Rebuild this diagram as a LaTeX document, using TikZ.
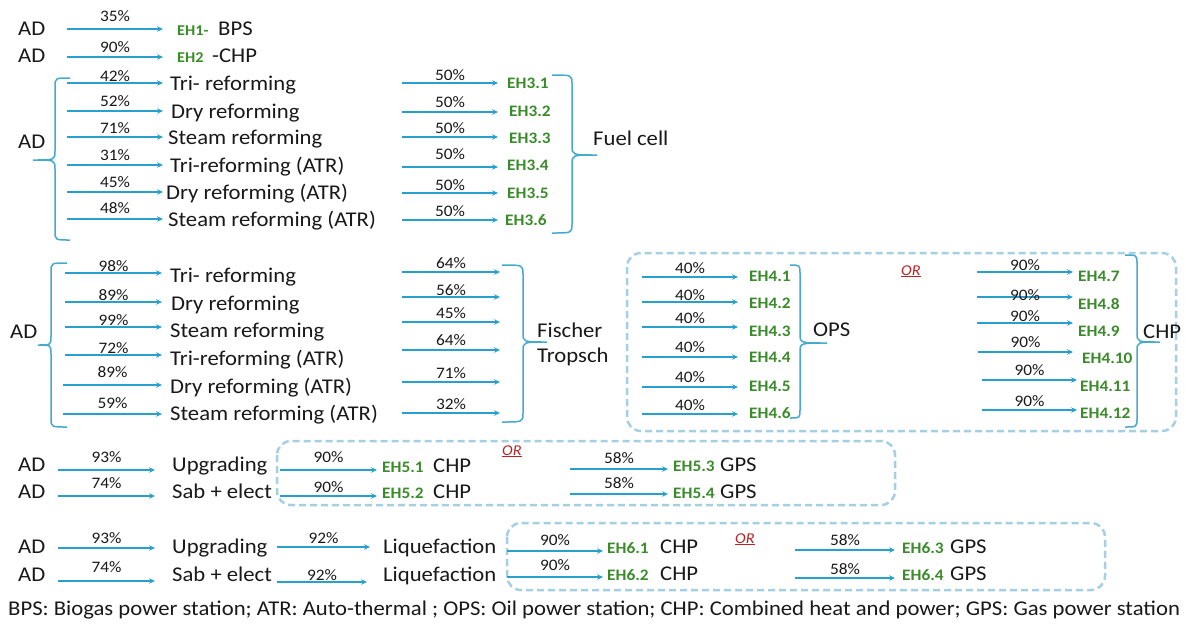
\documentclass[tikz,border=0pt]{standalone}
\usepackage{fontspec}
\setmainfont{Carlito}[FakeStretch=1.08]
\usetikzlibrary{arrows.meta}
\definecolor{arrc}{RGB}{40,160,205}
\definecolor{brcc}{RGB}{70,170,205}
\definecolor{boxc}{RGB}{165,208,228}
\definecolor{ehg}{RGB}{58,140,42}
\definecolor{orc}{RGB}{185,35,35}
\definecolor{txt}{RGB}{25,25,25}
\tikzset{
 flow/.style={draw=arrc, line width=1.3pt, -{Stealth[length=6pt,width=5.5pt]}},
 lbl/.style={font=\fontsize{21}{25}\selectfont, text=txt, inner sep=0pt, anchor=base west},
 pct/.style={font=\fontsize{16}{19}\selectfont, text=txt, inner sep=0pt, anchor=base},
 eh/.style={font=\fontsize{16}{19}\selectfont\bfseries, text=ehg, inner sep=0pt, anchor=base west},
 ehs/.style={eh, font=\fontsize{15}{18}\selectfont\bfseries},
 orl/.style={font=\fontsize{15}{18}\selectfont\itshape, text=orc, inner sep=0pt, anchor=base west},
 brc/.style={draw=brcc, line width=1.5pt},
 dbox/.style={draw=boxc, line width=2.5pt, dash pattern=on 7pt off 4pt, rounded corners=14pt},
 legend/.style={font=\fontsize{21}{25}\selectfont, text=txt, inner sep=0pt, anchor=base west},
}
% name, x start, x end, y, percent text, percent baseline
\newcommand\flowarrow[6]{%
 \coordinate (#1s) at (#2,#4);
 \coordinate (#1e) at (#3,#4);
 \draw[flow] (#1s) -- (#1e);
 \node[pct] (#1p) at ({(#2+#3)/2},#6) {#5};}
% name, x hook end, x vertical, x tip, y top, y tip, y bottom
\newcommand\bracepath[7]{%
 \draw[brc] (#2,#5) .. controls (#3,#5) .. (#3,#5+9) -- (#3,#6-9)
   .. controls (#3,#6) .. (#4,#6) coordinate (#1)
   .. controls (#3,#6) .. (#3,#6+9) -- (#3,#7-9)
   .. controls (#3,#7) .. (#2,#7);}
\begin{document}
\begin{tikzpicture}[x=1pt,y=-1pt]
\useasboundingbox[fill=white] (0,0) rectangle (1186,625);

% ---- row 1, 2
\node[lbl] (ad1) at (18,35) {AD};
\flowarrow{a1}{67}{163}{29}{35\%}{21}
\node[ehs] (eh1) at (177,35) {EH1-};
\node[lbl] (bps) at (218,35) {BPS};
\node[lbl] (ad2) at (18,62) {AD};
\flowarrow{a2}{67}{163}{57}{90\%}{52}
\node[ehs] (eh2) at (177,62) {EH2};
\node[lbl] (chp2) at (212,62) {-CHP};

% ---- group 3
\node[lbl] (ad3) at (18,148) {AD};
\bracepath{b3l}{70}{55}{33}{78}{160}{240}
\flowarrow{g3a}{67}{163}{83}{42\%}{81}
\flowarrow{g3b}{67}{163}{111}{52\%}{106}
\flowarrow{g3c}{67}{163}{137}{71\%}{133}
\flowarrow{g3d}{67}{163}{165}{31\%}{160}
\flowarrow{g3e}{67}{163}{192}{45\%}{187}
\flowarrow{g3f}{67}{163}{219}{48\%}{213}
\node[lbl] (g3la) at (170,90) {Tri- reforming};
\node[lbl] (g3lb) at (171,118) {Dry reforming};
\node[lbl] (g3lc) at (168,144) {Steam reforming};
\node[lbl] (g3ld) at (170,172) {Tri-reforming (ATR)};
\node[lbl] (g3le) at (166,199) {Dry reforming (ATR)};
\node[lbl] (g3lf) at (168,226) {Steam reforming (ATR)};
\flowarrow{g3A}{402}{498}{83}{50\%}{80}
\flowarrow{g3B}{402}{498}{112}{50\%}{107}
\flowarrow{g3C}{402}{498}{137}{50\%}{133}
\flowarrow{g3D}{402}{498}{167}{50\%}{159}
\flowarrow{g3E}{402}{498}{193}{50\%}{190}
\flowarrow{g3F}{402}{498}{220}{50\%}{216}
\node[eh] (eh31) at (507,88) {EH3.1};
\node[eh] (eh32) at (509,116) {EH3.2};
\node[eh] (eh33) at (509,143) {EH3.3};
\node[eh] (eh34) at (507,170) {EH3.4};
\node[eh] (eh35) at (507,198) {EH3.5};
\node[eh] (eh36) at (505,225) {EH3.6};
\bracepath{b3r}{552}{572}{597}{75}{155}{233}
\node[lbl] (fuel) at (593,145) {Fuel cell};

% ---- group 4
\node[lbl] (ad4) at (10,338) {AD};
\bracepath{b4l}{67}{51}{38}{263}{345}{427}
\flowarrow{g4a}{65}{162}{273}{98\%}{271}
\flowarrow{g4b}{65}{162}{302}{89\%}{300}
\flowarrow{g4c}{65}{162}{327}{99\%}{325}
\flowarrow{g4d}{65}{162}{355}{72\%}{353}
\flowarrow{g4e}{63}{162}{385}{89\%}{377}
\flowarrow{g4f}{63}{162}{414}{59\%}{408}
\node[lbl] (g4la) at (170,282) {Tri- reforming};
\node[lbl] (g4lb) at (171,310) {Dry reforming};
\node[lbl] (g4lc) at (170,337) {Steam reforming};
\node[lbl] (g4ld) at (170,365) {Tri-reforming (ATR)};
\node[lbl] (g4le) at (170,393) {Dry reforming (ATR)};
\node[lbl] (g4lf) at (170,420) {Steam reforming (ATR)};
\flowarrow{g4A}{402}{500}{272}{64\%}{268}
\flowarrow{g4B}{402}{500}{297}{56\%}{295}
\flowarrow{g4C}{402}{500}{322}{45\%}{318}
\flowarrow{g4D}{402}{500}{350}{64\%}{345}
\flowarrow{g4E}{402}{500}{382}{71\%}{378}
\flowarrow{g4F}{402}{500}{413}{32\%}{409}
\bracepath{b4r}{502}{523}{547}{265}{342}{422}
\node[lbl] (fis) at (537,337) {Fischer};
\node[lbl] (tro) at (537,362) {Tropsch};

% OPS / CHP box
\draw[dbox] (627,253) rectangle (1176,431);
\flowarrow{o1}{642}{738}{277}{40\%}{273}
\flowarrow{o2}{642}{738}{302}{40\%}{300}
\flowarrow{o3}{642}{738}{327}{40\%}{323}
\flowarrow{o4}{642}{738}{357}{40\%}{352}
\flowarrow{o5}{642}{738}{387}{40\%}{382}
\flowarrow{o6}{642}{738}{414}{40\%}{410}
\node[eh] (eh41) at (749,281) {EH4.1};
\node[eh] (eh42) at (749,308) {EH4.2};
\node[eh] (eh43) at (749,336) {EH4.3};
\node[eh] (eh44) at (749,362) {EH4.4};
\node[eh] (eh45) at (749,391) {EH4.5};
\node[eh] (eh46) at (749,418) {EH4.6};
\bracepath{bops}{790}{800}{827}{265}{343}{418}
\node[lbl] (ops) at (813,336) {OPS};
\node[orl] (or4) at (901,275) {\underline{OR}};
\flowarrow{c1}{977}{1073}{272}{90\%}{270}
\flowarrow{c2}{977}{1073}{297}{90\%}{300}
\flowarrow{c3}{977}{1073}{323}{90\%}{321}
\flowarrow{c4}{978}{1073}{352}{90\%}{347}
\flowarrow{c5}{982}{1077}{380}{90\%}{375}
\flowarrow{c6}{982}{1077}{410}{90\%}{406}
\node[eh] (eh47) at (1078,281) {EH4.7};
\node[eh] (eh48) at (1078,309) {EH4.8};
\node[eh] (eh49) at (1078,336) {EH4.9};
\node[eh] (eh410) at (1082,363) {EH4.10};
\node[eh] (eh411) at (1080,391) {EH4.11};
\node[eh] (eh412) at (1080,418) {EH4.12};
\bracepath{bchp}{1125}{1137}{1160}{255}{342}{427}
\node[lbl] (chp4) at (1143,338) {CHP};

% ---- group 5
\node[lbl] (ad5a) at (18,471) {AD};
\node[lbl] (ad5b) at (18,498) {AD};
\flowarrow{p5a}{58}{155}{470}{93\%}{462}
\flowarrow{p5b}{58}{155}{496}{74\%}{488}
\node[lbl] (up5) at (172,471) {Upgrading};
\node[lbl] (sab5) at (172,498) {Sab + elect};
\draw[dbox] (277,441) rectangle (895,505);
\flowarrow{q5a}{280}{377}{470}{90\%}{462}
\flowarrow{q5b}{280}{377}{496}{90\%}{492}
\node[eh] (eh51) at (382,472) {EH5.1};
\node[lbl] (chp51) at (433,472) {CHP};
\node[eh] (eh52) at (382,498) {EH5.2};
\node[lbl] (chp52) at (433,498) {CHP};
\node[orl] (or5) at (502,455) {\underline{OR}};
\flowarrow{r5a}{570}{668}{469}{58\%}{463}
\flowarrow{r5b}{570}{668}{494}{58\%}{488}
\node[eh] (eh53) at (673,471) {EH5.3};
\node[lbl] (gps53) at (720,471) {GPS};
\node[eh] (eh54) at (673,498) {EH5.4};
\node[lbl] (gps54) at (720,498) {GPS};

% ---- group 6
\node[lbl] (ad6a) at (18,553) {AD};
\node[lbl] (ad6b) at (18,581) {AD};
\flowarrow{p6a}{58}{155}{548}{93\%}{543}
\flowarrow{p6b}{58}{155}{581}{74\%}{572}
\node[lbl] (up6) at (172,553) {Upgrading};
\node[lbl] (sab6) at (172,581) {Sab + elect};
\flowarrow{l6a}{277}{370}{547}{92\%}{543}
\flowarrow{l6b}{277}{367}{582}{92\%}{580}
\node[lbl] (liq6a) at (383,553) {Liquefaction};
\node[lbl] (liq6b) at (383,581) {Liquefaction};
\draw[dbox] (507,523) rectangle (1105,590);
\flowarrow{q6a}{507}{603}{551}{90\%}{545}
\flowarrow{q6b}{507}{603}{577}{90\%}{570}
\node[eh] (eh61) at (607,553) {EH6.1};
\node[lbl] (chp61) at (660,553) {CHP};
\node[eh] (eh62) at (607,580) {EH6.2};
\node[lbl] (chp62) at (660,580) {CHP};
\node[orl] (or6) at (735,543) {\underline{OR}};
\flowarrow{r6a}{795}{895}{550}{58\%}{545}
\flowarrow{r6b}{795}{895}{578}{58\%}{574}
\node[eh] (eh63) at (902,553) {EH6.3};
\node[lbl] (gps63) at (950,553) {GPS};
\node[eh] (eh64) at (902,580) {EH6.4};
\node[lbl] (gps64) at (950,580) {GPS};

% ---- legend
\node[legend] (leg) at (8,615) {BPS: Biogas power station; ATR: Auto-thermal ; OPS: Oil power station; CHP: Combined heat and power; GPS: Gas power station};
\end{tikzpicture}
\end{document}
